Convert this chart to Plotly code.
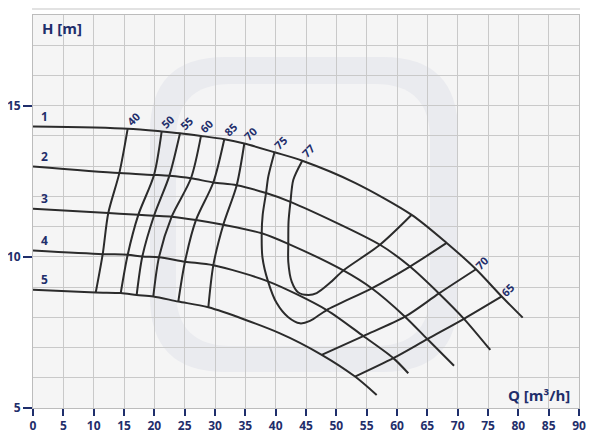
import plotly.graph_objects as go

NAVY = "#1f2e6b"
LINE = "#2b2b2b"
FONT = "Open Sans"

# ---------------- data ----------------
# head curves (impeller 1..5): Q [m3/h], H [m]
c1_q = [0, 15.61, 21.21, 24.23, 27.69, 31.53, 34.83, 39.81, 44.39, 53.08, 62.42, 68.19, 73.02, 77.26, 80.72]
c1_h = [14.31, 14.24, 14.15, 14.09, 14.00, 13.89, 13.75, 13.46, 13.18, 12.45, 11.39, 10.46, 9.59, 8.69, 7.99]
c2_q = [0, 14.23, 19.95, 22.47, 26.04, 29.72, 33.58, 38.41, 42.44, 57.20, 62.14, 66.92, 71.04, 75.38]
c2_h = [12.99, 12.77, 12.71, 12.68, 12.60, 12.46, 12.37, 12.11, 11.82, 10.40, 9.68, 8.79, 7.95, 6.92]
c3_q = [0, 12.41, 17.36, 19.95, 22.86, 26.87, 31.37, 37.70, 42.08, 51.15, 55.83, 61.32, 65.00, 69.40]
c3_h = [11.59, 11.45, 11.39, 11.36, 11.33, 11.22, 11.06, 10.78, 10.43, 9.55, 8.96, 8.02, 7.28, 6.40]
c4_q = [0, 11.49, 15.61, 18.02, 20.77, 25.05, 29.72, 38.74, 48.41, 54.44, 59.39, 61.86]
c4_h = [10.21, 10.09, 10.07, 10.01, 9.99, 9.84, 9.72, 9.19, 8.24, 7.38, 6.65, 6.15]
c5_q = [0, 10.34, 14.46, 17.09, 19.83, 23.95, 28.90, 40.71, 47.59, 53.08, 56.65]
c5_h = [8.91, 8.82, 8.80, 8.74, 8.69, 8.52, 8.33, 7.47, 6.76, 6.04, 5.43]
curve_labels = ["1", "2", "3", "4", "5"]

# iso-efficiency lines (first point lies on curve 1)
e40_q = [15.61, 14.23, 12.41, 11.49, 10.34]
e40_h = [14.24, 12.77, 11.45, 10.09, 8.82]
e50_q = [21.21, 19.95, 17.36, 15.61, 14.46]
e50_h = [14.15, 12.71, 11.39, 10.07, 8.80]
e55_q = [24.23, 22.47, 19.95, 18.02, 17.09]
e55_h = [14.09, 12.68, 11.36, 10.01, 8.74]
e60_q = [27.69, 26.04, 22.86, 20.77, 19.83]
e60_h = [14.00, 12.60, 11.33, 9.99, 8.69]
e65_q = [31.53, 29.72, 26.87, 25.05, 23.95]
e65_h = [13.89, 12.46, 11.22, 9.84, 8.52]
e70_q = [34.83, 33.58, 31.37, 29.72, 28.90]
e70_h = [13.75, 12.37, 11.06, 9.72, 8.33]
e75_q = [39.81, 38.79, 38.41, 37.86, 37.70, 37.83, 38.74, 40.17, 42.03, 44.01, 45.66, 48.41, 55.83, 62.14, 68.19]
e75_h = [13.46, 12.66, 12.11, 11.39, 10.78, 9.97, 9.19, 8.47, 8.01, 7.80, 7.88, 8.24, 8.96, 9.68, 10.46]
e77_q = [44.39, 42.91, 42.44, 42.12, 42.08, 42.08, 42.64, 43.73, 45.38, 46.76, 48.96, 51.15, 57.20, 62.42]
e77_h = [13.18, 12.55, 11.82, 11.16, 10.43, 9.83, 9.18, 8.82, 8.74, 8.80, 9.14, 9.55, 10.40, 11.39]
e70r_q = [73.02, 66.92, 61.32, 54.44, 47.59]
e70r_h = [9.59, 8.79, 8.02, 7.38, 6.76]
e65r_q = [77.26, 71.04, 65.00, 59.39, 53.08]
e65r_h = [8.69, 7.95, 7.28, 6.65, 6.04]
eff_labels = ["40", "50", "55", "60", "85", "70", "75", "77", "70", "65"]

x_ticks = list(range(0, 95, 5))
y_ticks = [5, 10, 15]

# ---------------- figure ----------------
OFF = 8                      # page offset of the plot div inside the browser window
W, H = 600 - OFF, 435 - OFF
L, R, T, B = 25, 21, 7, 27
pw, ph = W - L - R, H - T - B
X0, Y1 = OFF + L, OFF + T + ph   # screen position of plot left / bottom


def px2paper(x, y):
    return (x - X0) / pw, (Y1 - y) / ph


fig = go.Figure()

heads = [(c1_q, c1_h), (c2_q, c2_h), (c3_q, c3_h), (c4_q, c4_h), (c5_q, c5_h)]
effs = [(e40_q, e40_h), (e50_q, e50_h), (e55_q, e55_h), (e60_q, e60_h), (e65_q, e65_h),
        (e70_q, e70_h), (e75_q, e75_h), (e77_q, e77_h), (e70r_q, e70r_h), (e65r_q, e65r_h)]

for q, h in effs:
    fig.add_trace(go.Scatter(x=q, y=h, mode="lines",
                             line=dict(color=LINE, width=2, shape="spline", smoothing=0.8),
                             hoverinfo="skip", showlegend=False))
for q, h in heads:
    fig.add_trace(go.Scatter(x=q, y=h, mode="lines",
                             line=dict(color=LINE, width=2, shape="spline", smoothing=0.8),
                             hoverinfo="skip", showlegend=False))

ann = []
for (q, h), lab in zip(heads, curve_labels):
    ann.append(dict(x=q[0], y=h[0], text=lab, showarrow=False, xshift=11, yshift=10,
                    font=dict(family=FONT, size=12, color=NAVY, weight="bold")))
for i, ((q, h), lab) in enumerate(zip(effs, eff_labels)):
    right = i >= 8
    ann.append(dict(x=q[0], y=h[0], text=lab, showarrow=False, textangle=-45,
                    xshift=6, yshift=7 if right else 10,
                    font=dict(family=FONT, size=11, color=NAVY, weight="bold")))

hx, hy = px2paper(40, 27.5)
ann.append(dict(x=hx, y=hy, xref="paper", yref="paper", text="H [m]", showarrow=False,
                xanchor="left", yanchor="middle",
                font=dict(family=FONT, size=15, color=NAVY, weight="bold")))
qx, qy = px2paper(572, 395)
ann.append(dict(x=qx, y=qy, xref="paper", yref="paper", text="Q [m³/h]", showarrow=False,
                xanchor="right", yanchor="middle",
                font=dict(family=FONT, size=15, color=NAVY, weight="bold")))


def rrect(x0, y0, x1, y1, r):
    a0, b0 = px2paper(x0, y0)
    a1, b1 = px2paper(x1, y1)
    rx, ry = r / pw, r / ph
    return (f"M {a0+rx} {b0} L {a1-rx} {b0} Q {a1} {b0} {a1} {b0-ry} "
            f"L {a1} {b1+ry} Q {a1} {b1} {a1-rx} {b1} L {a0+rx} {b1} "
            f"Q {a0} {b1} {a0} {b1+ry} L {a0} {b0-ry} Q {a0} {b0} {a0+rx} {b0} Z")


shapes = [
    dict(type="path", xref="paper", yref="paper", layer="below",
         path=rrect(150, 57, 458, 372, 75), fillcolor="#eaebef", line=dict(width=0)),
    dict(type="path", xref="paper", yref="paper", layer="below",
         path=rrect(176, 84, 430, 346, 55), fillcolor="#f4f4f5", line=dict(width=0)),
]
bx0, by0 = px2paper(32, OFF)
bx1, by1 = px2paper(580, OFF + 2)
shapes.append(dict(type="rect", xref="paper", yref="paper", x0=bx0, x1=bx1, y0=by1, y1=by0,
                   fillcolor="#e2e2e2", line=dict(width=0)))

fig.update_layout(
    width=W, height=H,
    margin=dict(l=L, r=R, t=T, b=B, pad=0, autoexpand=False),
    paper_bgcolor="white",
    plot_bgcolor="#f5f5f5",
    annotations=ann,
    shapes=shapes,
    showlegend=False,
)
fig.update_xaxes(range=[0, 90], tickvals=x_ticks, ticktext=[str(v) for v in x_ticks],
                 automargin=False,
                 showgrid=True, gridcolor="#c9c9c9", gridwidth=1,
                 ticks="outside", ticklen=7, tickwidth=1.5, tickcolor=NAVY,
                 showline=True, mirror=True, linecolor="#bcbcbc", linewidth=1,
                 zeroline=False,
                 tickfont=dict(family=FONT, size=12, color=NAVY, weight="bold"))
fig.update_yaxes(range=[5, 18], tickvals=y_ticks, ticktext=[str(v) for v in y_ticks],
                 automargin=False,
                 showgrid=True, gridcolor="#c9c9c9", gridwidth=1,
                 minor=dict(dtick=1, tick0=0, showgrid=True, gridcolor="#c9c9c9", ticklen=0),
                 ticks="outside", ticklen=9, tickwidth=1.5, tickcolor=NAVY,
                 showline=True, mirror=True, linecolor="#bcbcbc", linewidth=1,
                 zeroline=False,
                 tickfont=dict(family=FONT, size=12, color=NAVY, weight="bold"))

fig.write_html("out.html")
